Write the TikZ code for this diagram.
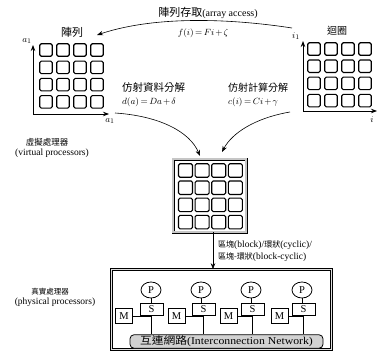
\documentclass[tikz,border=0pt]{standalone}
\usepackage{fontspec}
\usepackage{graphicx}
\setmainfont{Liberation Serif}
\newfontfamily\cjk{Noto Sans CJK TC}
\usetikzlibrary{arrows.meta,shapes.geometric}
\newcommand{\zh}[1]{{\cjk #1}}
\medmuskip=2mu plus 1mu
\thickmuskip=3mu plus 1mu
\begin{document}
\begin{tikzpicture}[x=1pt,y=-1pt,
  cell/.style={draw, line width=1.1pt, rounded corners=1.5pt, minimum size=12.5pt, inner sep=0pt},
  vcell/.style={draw, line width=1.1pt, rounded corners=1.5pt, minimum width=14pt, minimum height=13.5pt, inner sep=0pt},
  arr/.style={-{Stealth[length=6pt,width=4.5pt]}, line width=0.6pt},
  axis/.style={-{Stealth[length=6pt,width=4.5pt]}, line width=0.8pt},
  dbl/.style={draw, line width=0.6pt, double=gray!45, double distance=1.8pt},
  pnode/.style={draw, ellipse, line width=0.8pt, minimum width=20pt, minimum height=16pt, inner sep=0pt, font=\fontsize{10.5}{10}\selectfont},
  snode/.style={draw, line width=0.8pt, minimum width=23pt, minimum height=12pt, inner sep=0pt, font=\fontsize{10.5}{10}\selectfont},
  mnode/.style={draw, line width=0.8pt, minimum width=17pt, minimum height=15pt, inner sep=0pt, font=\fontsize{10.5}{10}\selectfont},
  txt/.style={inner sep=0pt, font=\fontsize{9.5}{10}\selectfont},
  wire/.style={line width=0.6pt}]
\useasboundingbox (0,0) rectangle (377,353);

% ---- left grid (array)
\foreach \i in {0,...,3}
  \foreach \j in {0,...,3}
    \node[cell] (L\i\j) at (46+17*\i, 50+17.3*\j) {};
\coordinate (Lo) at (33,114);
\coordinate (Ly) at (33,45);
\coordinate (Lx) at (109,114);
\draw[axis] (Lo) -- (Ly);
\draw[axis] (Lo) -- (Lx);
\node[txt] (la1) at (27,41) {$a_1$};
\node[txt] (la2) at (110,121) {$a_1$};
\node[txt, font=\fontsize{11}{11}\selectfont] (ltitle) at (72,32) {\zh{陣列}};

% ---- right grid (loop)
\foreach \i in {0,...,3}
  \foreach \j in {0,...,3}
    \node[cell] (R\i\j) at (314+17*\i, 49+17.2*\j) {};
\coordinate (Ro) at (303,111);
\coordinate (Ry) at (303,41);
\coordinate (Rx) at (377,111);
\draw[axis] (Ro) -- (Ry);
\draw[axis] (Ro) -- (Rx);
\node[txt] (ri1) at (296,36) {$i_1$};
\node[txt] (ri) at (372,120) {$i$};
\node[txt, font=\fontsize{10}{10}\selectfont] (rtitle) at (337,31) {\zh{迴圈}};

% ---- top arc
\coordinate (tR) at (292,28);
\coordinate (tL) at (97,35);
\draw[arr] (tR) .. controls (240,20) and (160,14) .. (tL);
\node[txt, font=\fontsize{10}{10}\selectfont] (acc) at (208,13) {\zh{\fontsize{11}{11}\selectfont 陣列存取}(array access)};
\node[txt, font=\fontsize{9}{10}\selectfont] (facc) at (203,33) {$f(i) = Fi + \zeta$};

% ---- virtual processors
\node[dbl, minimum width=73pt, minimum height=73pt, inner sep=0pt] (vbox) at (209.5,195.5) {};
\foreach \i in {0,...,3}
  \foreach \j in {0,...,3}
    \node[vcell] (V\i\j) at (185.5+16.6*\i, 170.5+17.2*\j) {};

\coordinate (dL) at (115,113);
\coordinate (dR) at (290,112);
\coordinate (vL) at (200,156);
\coordinate (vR) at (222,152);
\draw[arr] (dL) .. controls (160,116) and (190,132) .. (vL);
\draw[arr] (dR) .. controls (255,118) and (232,133) .. (vR);

\node[txt, anchor=west] (dtxt) at (122,88) {\zh{\fontsize{10.5}{11}\selectfont 仿射資料分解}};
\node[txt, anchor=west, font=\fontsize{9}{10}\selectfont] (dfun) at (122,102) {$d(a) = Da + \delta$};
\node[txt, anchor=west] (ctxt) at (228,88) {\zh{\fontsize{10}{11}\selectfont 仿射計算分解}};
\node[txt, anchor=west, font=\fontsize{9}{10}\selectfont] (cfun) at (228,102) {$c(i) = Ci + \gamma$};

\node[txt, font=\fontsize{8.5}{9}\selectfont] (vlab1) at (47,142) {\zh{虛擬處理器}};
\node[txt] (vlab2) at (52,153) {(virtual processors)};

% ---- physical processors
\node[dbl, double=gray!25, minimum width=220pt, minimum height=80pt, inner sep=0pt] (pbox) at (221.5,309.5) {};
\draw[arr] (vbox.south -| 213,0) -- (pbox.north -| 213,0);
\node[txt, anchor=west, font=\fontsize{9.5}{9}\selectfont] (dist1) at (218,245) {\zh{\fontsize{8}{9}\selectfont 區塊}(block)/\zh{\fontsize{8}{9}\selectfont 環狀}(cyclic)/};
\node[txt, anchor=west, font=\fontsize{9.5}{9}\selectfont] (dist2) at (218,257) {\zh{\fontsize{8}{9}\selectfont 區塊-環狀}(block-cyclic)};

\node[txt, font=\fontsize{7.5}{9}\selectfont] (plab1) at (50,292) {\zh{真實處理器}};
\node[txt] (plab2) at (55,302) {(physical processors)};

\node[draw, line width=0.8pt, rounded corners=4pt, fill=gray!35, minimum width=193pt, minimum height=13.5pt, inner sep=0pt,
      font=\fontsize{10.5}{10}\selectfont] (net) at (226.5,341.5) {\scalebox{1.12}[1]{\zh{互連網路}(Interconnection Network)}};

\foreach \k/\px/\sx/\mx in {1/151/151.5/124, 2/201/203.5/176.5, 3/251/252.5/228.5, 4/302/303.5/279.5} {
  \node[pnode] (P\k) at (\px,290) {P};
  \node[snode] (S\k) at (\sx,309) {S};
  \node[mnode] (M\k) at (\mx,316) {M};
  \draw[wire] (P\k.south) -- (P\k.south |- S\k.north);
  \draw[wire] (S\k.south) -- (S\k.south |- net.north);
  \draw[wire] (M\k.east) -- (M\k.east -| S\k.south);
}
\end{tikzpicture}
\end{document}
